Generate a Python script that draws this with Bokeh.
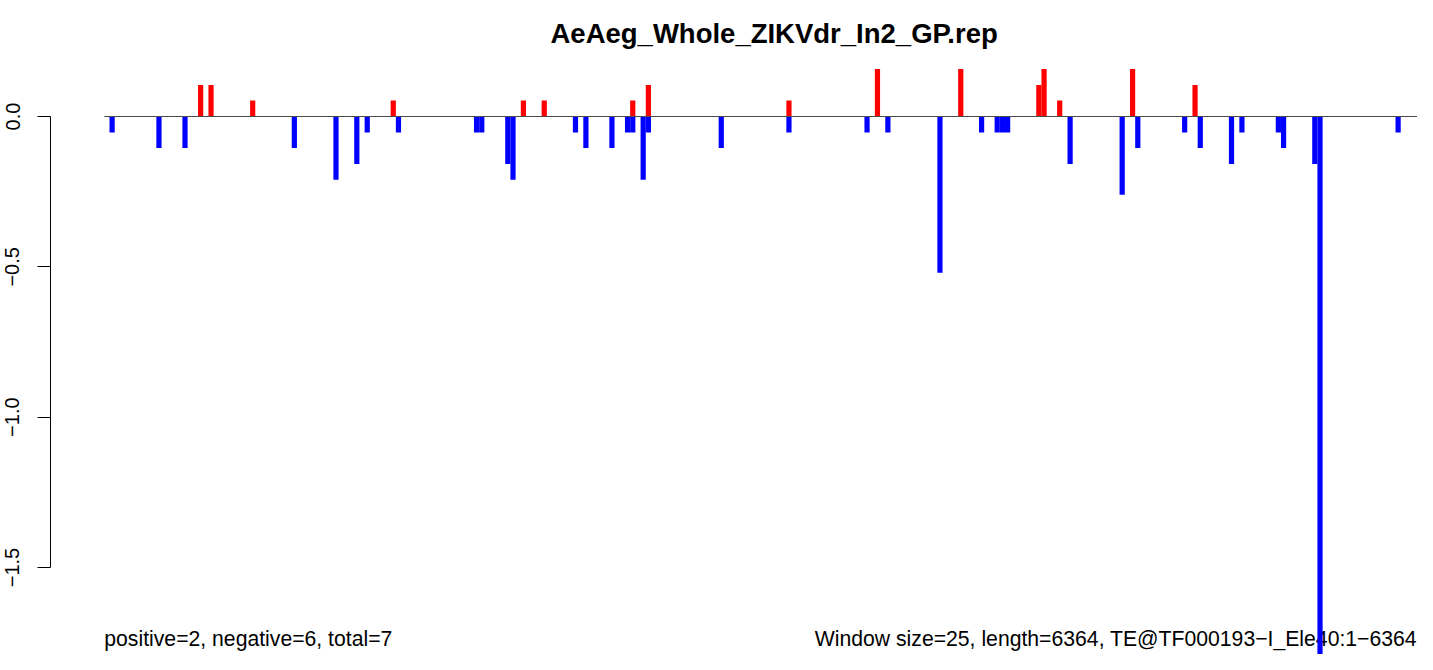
from bokeh.plotting import figure
from bokeh.models import Range1d, FixedTicker, Label
from bokeh.embed import file_html
from bokeh.resources import INLINE

# ---------------- data ----------------
title_text = "AeAeg_Whole_ZIKVdr_In2_GP.rep"
left_note = "positive=2, negative=6, total=7"
right_note = "Window size=25, length=6364, TE@TF000193\u2212I_Ele40:1\u22126364"
n_windows = 255

pos_idx = [18, 20, 28, 55, 80, 84, 101, 104, 131, 148, 164, 179, 180, 183, 197, 209]
pos_val = [0.105, 0.105, 0.053, 0.053, 0.053, 0.053, 0.053, 0.105, 0.053, 0.158,
           0.158, 0.105, 0.158, 0.053, 0.158, 0.105]

neg_idx = [1, 10, 15, 36, 44, 48, 50, 56, 71, 72, 77, 78, 90, 92, 97, 100, 101, 103,
           104, 118, 131, 146, 150, 160, 168, 171, 172, 173, 185, 195, 198, 207, 210,
           216, 218, 225, 226, 232, 233, 248]
neg_val = [-0.053, -0.105, -0.105, -0.105, -0.21, -0.158, -0.053, -0.053, -0.053, -0.053,
           -0.158, -0.21, -0.053, -0.105, -0.105, -0.053, -0.053, -0.21, -0.053, -0.105,
           -0.053, -0.053, -0.053, -0.52, -0.053, -0.053, -0.053, -0.053, -0.158, -0.26,
           -0.105, -0.053, -0.105, -0.158, -0.053, -0.053, -0.105, -0.158, -1.79, -0.053]

y_ticks = [0.0, -0.5, -1.0, -1.5]
y_tick_labels = ["0.0", "\u22120.5", "\u22121.0", "\u22121.5"]

# ---------------- layout ----------------
W, H = 1417, 654
LEFT, TOP = 50, 53
px_per_win, x_origin = 5.2065, 103.8     # canvas px of window 0 start
px_per_unit, y_zero = 300.67, 116.0      # canvas px of value 0

def dx(px):
    return (px - x_origin) / px_per_win

def dy(py):
    return (y_zero - py) / px_per_unit

x_start, x_end = dx(LEFT), dx(W)
y_end, y_start = dy(TOP), dy(H)

FONT = "Liberation Sans"

p = figure(width=W, height=H, output_backend="svg", toolbar_location=None,
           x_range=Range1d(x_start, x_end), y_range=Range1d(y_start, y_end),
           min_border_left=LEFT, min_border_right=0, min_border_top=TOP,
           min_border_bottom=0, x_axis_location=None, y_axis_location="left",
           background_fill_color="white", border_fill_color="white")
p.outline_line_color = None
p.xgrid.visible = False
p.ygrid.visible = False

p.title.text = title_text
p.title.align = "left"
p.title.offset = 550 - LEFT
p.title.text_font = FONT
p.title.text_font_style = "bold"
p.title.text_font_size = "27.5px"
p.title.text_color = "black"

yaxis = p.yaxis[0]
yaxis.ticker = FixedTicker(ticks=y_ticks, minor_ticks=[])
yaxis.major_label_overrides = {t: l for t, l in zip(y_ticks, y_tick_labels)}
yaxis.bounds = (min(y_ticks), max(y_ticks))
yaxis.major_tick_out = 13
yaxis.major_tick_in = 0
yaxis.minor_tick_out = 0
yaxis.minor_tick_in = 0
yaxis.axis_line_color = "black"
yaxis.axis_line_width = 1
yaxis.major_tick_line_color = "black"
yaxis.major_tick_line_width = 1
yaxis.major_label_orientation = "parallel"
yaxis.major_label_standoff = 18
yaxis.major_label_text_font = FONT
yaxis.major_label_text_font_size = "20px"
yaxis.major_label_text_color = "black"

# bars
p.vbar(x=[i + 0.5 for i in pos_idx], top=pos_val, bottom=0, width=1.0,
       fill_color="#FF0000", line_color=None)
p.vbar(x=[i + 0.5 for i in neg_idx], top=neg_val, bottom=0, width=1.0,
       fill_color="#0000FF", line_color=None)

# zero line across all windows
p.segment(x0=[0], y0=[0], x1=[n_windows], y1=[0], line_color="#4a4a4a", line_width=1.2)

# bottom notes
yb = dy(638)
p.add_layout(Label(x=0, y=yb, text=left_note, text_align="left",
                   text_baseline="alphabetic", text_font=FONT,
                   text_font_size="21.2px", text_color="black", level="underlay"))
p.add_layout(Label(x=x_end - 0.1, y=yb, text=right_note, text_align="right",
                   text_baseline="alphabetic", text_font=FONT,
                   text_font_size="21.2px", text_color="black", level="underlay"))

open("out.html", "w").write(file_html(p, INLINE))
